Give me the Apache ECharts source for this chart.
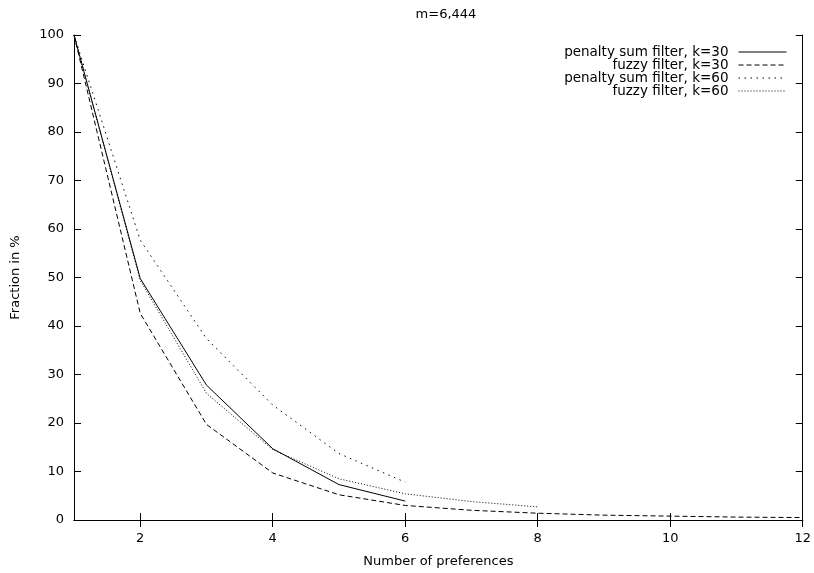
<!DOCTYPE html>
<html>
<head>
<meta charset="utf-8">
<script src="https://cdn.jsdelivr.net/npm/echarts@6/dist/echarts.min.js"></script>
<style>html,body{margin:0;padding:0;background:#fff}#c{width:814px;height:573px}</style>
</head>
<body>
<div id="c"></div>
<script>
const seriesNames = ["penalty sum filter, k=30", "fuzzy filter, k=30", "penalty sum filter, k=60", "fuzzy filter, k=60"];
const xPenalty30 = [1, 2, 3, 4, 5, 6];
const yPenalty30 = [100, 49.8, 27.8, 14.7, 7.3, 3.9];
const xFuzzy30 = [1, 2, 3, 4, 5, 6, 7, 8, 9, 10, 11, 12];
const yFuzzy30 = [100, 42.6, 19.7, 9.7, 5.2, 3.0, 2.0, 1.4, 1.0, 0.8, 0.6, 0.5];
const xPenalty60 = [1, 2, 3, 4, 5, 6];
const yPenalty60 = [100, 57.7, 37.4, 23.7, 13.7, 7.8];
const xFuzzy60 = [1, 2, 3, 4, 5, 6, 7, 8];
const yFuzzy60 = [100, 49.4, 26.1, 14.5, 8.5, 5.4, 3.8, 2.7];
const xTicks = [2, 4, 6, 8, 10, 12];

const pair = (xs, ys) => xs.map((x, i) => [x, ys[i]]);
const FONT = 'DejaVu Sans, sans-serif';
const dashes = ['solid', [5, 3], [1.5, 4.5], [1, 2]];
const datasets = [pair(xPenalty30, yPenalty30), pair(xFuzzy30, yFuzzy30), pair(xPenalty60, yPenalty60), pair(xFuzzy60, yFuzzy60)];

const chart = echarts.init(document.getElementById('c'), null, {renderer: 'canvas'});
const axisLine = {show: true, lineStyle: {color: '#000', width: 1}};
chart.setOption({
  animation: false,
  backgroundColor: '#fff',
  title: {text: 'm=6,444', left: 441, top: 3, textAlign: 'center',
    textStyle: {fontFamily: FONT, fontSize: 13, fontWeight: 'normal', color: '#000'}},
  grid: {left: 74, right: 6, top: 35, bottom: 53},
  legend: {
    orient: 'vertical', align: 'right', right: 27, top: 45, padding: 0,
    itemWidth: 48, itemHeight: 12, itemGap: -1,
    itemStyle: {opacity: 0, borderWidth: 0},
    lineStyle: {width: 1, color: '#000'},
    textStyle: {fontFamily: FONT, fontSize: 13.5, lineHeight: 13, color: '#000', padding: [0, 5, 0, 0]},
    data: seriesNames
  },
  xAxis: [{
    type: 'value', min: 1, max: 12,
    name: 'Number of preferences', nameLocation: 'middle', nameGap: 35,
    nameTextStyle: {fontFamily: FONT, fontSize: 13, color: '#000'},
    axisLine: axisLine,
    axisTick: {show: true, inside: true, length: 7, customValues: xTicks, lineStyle: {color: '#000'}},
    axisLabel: {customValues: xTicks, margin: 12, fontFamily: FONT, fontSize: 13, color: '#000'},
    splitLine: {show: false}
  }, {
    type: 'value', min: 1, max: 12, position: 'top',
    axisLine: axisLine,
    axisTick: {show: true, inside: true, length: 7, customValues: xTicks, lineStyle: {color: '#000'}},
    axisLabel: {show: false}, splitLine: {show: false}
  }],
  yAxis: [{
    type: 'value', min: 0, max: 100, interval: 10,
    name: 'Fraction in %', nameLocation: 'middle', nameGap: 52, nameRotate: 90,
    nameTextStyle: {fontFamily: FONT, fontSize: 13, color: '#000'},
    axisLine: axisLine,
    axisTick: {show: true, inside: true, length: 7, lineStyle: {color: '#000'}},
    axisLabel: {margin: 10, fontFamily: FONT, fontSize: 13, color: '#000'},
    splitLine: {show: false}
  }, {
    type: 'value', min: 0, max: 100, interval: 10, position: 'right',
    axisLine: axisLine,
    axisTick: {show: true, inside: true, length: 7, lineStyle: {color: '#000'}},
    axisLabel: {show: false}, splitLine: {show: false}
  }],
  series: seriesNames.map((n, i) => ({
    name: n, type: 'line', data: datasets[i], xAxisIndex: 0, yAxisIndex: 0,
    showSymbol: false, symbol: 'none',
    itemStyle: {color: '#000'},
    lineStyle: {color: '#000', width: 1, type: dashes[i]}
  }))
});
</script>
</body>
</html>
